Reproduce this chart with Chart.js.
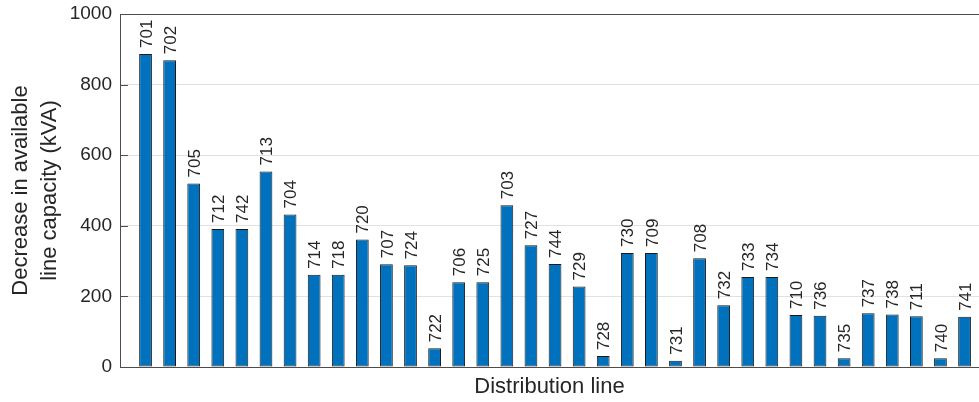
<!DOCTYPE html>
<html lang="en">
<head>
  <meta charset="UTF-8" />
  <title>Available Line Capacity</title>
  <script src="https://cdn.jsdelivr.net/npm/chart.js"></script>
  <style>
    html, body { margin: 0; padding: 0; background: #fff; overflow: hidden; }
    #wrap { width: 979px; height: 402px; position: relative; }
  </style>
</head>
<body>
  <div id="wrap"><canvas id="capacityChart"></canvas></div>

  <script>
    // distribution lines, in the order they are plotted
    const lineIds = [
      '701', '702', '705', '712', '742', '713', '704', '714', '718', '720',
      '707', '724', '722', '706', '725', '703', '727', '744', '729', '728',
      '730', '709', '731', '708', '732', '733', '734', '710', '736', '735',
      '737', '738', '711', '740', '741'
    ];
    // decrease in available line capacity, kVA
    const capacityDrop = [
      887, 869, 520, 391, 391, 554, 432, 261, 261, 361,
      291, 288, 53, 240, 240, 458, 345, 292, 228, 31,
      323, 323, 18, 308, 175, 255, 255, 147, 145, 25,
      152, 149, 144, 25, 142
    ];
    const yTicks = [0, 200, 400, 600, 800, 1000];

    const FONT = "'Liberation Sans', Arial, Helvetica, sans-serif";
    const TEXT = '#262626';
    const AXIS = '#4d4d4d';

    Chart.defaults.font.family = FONT;
    Chart.defaults.color = TEXT;

    // vertical line id written above each bar
    const barLabels = {
      id: 'barLabels',
      afterDatasetsDraw(chart) {
        const ctx = chart.ctx;
        const size = 17;
        ctx.save();
        ctx.font = size + 'px ' + FONT;
        ctx.fillStyle = TEXT;
        ctx.textAlign = 'left';
        ctx.textBaseline = 'alphabetic';
        chart.getDatasetMeta(0).data.forEach((bar, i) => {
          ctx.save();
          ctx.translate(bar.x, bar.y - 6);
          ctx.rotate(-Math.PI / 2);
          ctx.fillText(lineIds[i], 0, size * 0.36);
          ctx.restore();
        });
        ctx.restore();
      }
    };

    // short tick marks pointing into the plot on the y axis
    const innerTicks = {
      id: 'innerTicks',
      afterDraw(chart) {
        const ctx = chart.ctx;
        const y = chart.scales.y;
        const left = chart.chartArea.left;
        ctx.save();
        ctx.strokeStyle = AXIS;
        ctx.lineWidth = 1;
        yTicks.forEach(v => {
          const py = Math.round(y.getPixelForValue(v)) + 0.5;
          ctx.beginPath();
          ctx.moveTo(left, py);
          ctx.lineTo(left + 8, py);
          ctx.stroke();
        });
        ctx.restore();
      }
    };

    new Chart(document.getElementById('capacityChart'), {
      type: 'bar',
      data: {
        datasets: [{
          data: capacityDrop.map((v, i) => ({ x: i + 1, y: v })),
          backgroundColor: '#0072BD',
          borderColor: '#1a1a1a',
          borderWidth: 1,
          borderSkipped: false,
          categoryPercentage: 1,
          barPercentage: 0.53
        }]
      },
      options: {
        responsive: true,
        maintainAspectRatio: false,
        animation: false,
        layout: { padding: { top: 14, right: 0, bottom: 0, left: 0 } },
        plugins: {
          legend: { display: false },
          tooltip: { enabled: false }
        },
        scales: {
          x: {
            type: 'linear',
            offset: false,
            min: -0.06,
            max: 35.6,
            ticks: { display: false },
            grid: { display: false, drawTicks: false, offset: false },
            border: { display: true, color: AXIS, width: 1 },
            title: {
              display: true,
              text: 'Distribution line',
              color: TEXT,
              font: { size: 22 },
              padding: { top: 0, bottom: 2 }
            },
            afterFit: s => { s.height = 35; s.paddingLeft = 0; s.paddingRight = 0; }
          },
          y: {
            min: 0,
            max: 1000,
            afterBuildTicks: s => { s.ticks = yTicks.map(v => ({ value: v })); },
            ticks: {
              color: TEXT,
              padding: 8,
              font: { size: 19 },
              callback: v => String(v)
            },
            grid: {
              drawTicks: false,
              color: c => (c.tick.value === 0 || c.tick.value === 1000) ? AXIS : '#e1e1e1',
              lineWidth: 1
            },
            border: { display: true, color: AXIS, width: 1 },
            title: {
              display: true,
              text: ['Decrease in available', 'line capacity (kVA)'],
              color: TEXT,
              font: { size: 22, lineHeight: 1.34 },
              padding: { top: 6, bottom: 0 }
            },
            afterFit: s => { s.width = 120; s.paddingTop = 0; s.paddingBottom = 0; }
          }
        }
      },
      plugins: [barLabels, innerTicks]
    });
  </script>
</body>
</html>
